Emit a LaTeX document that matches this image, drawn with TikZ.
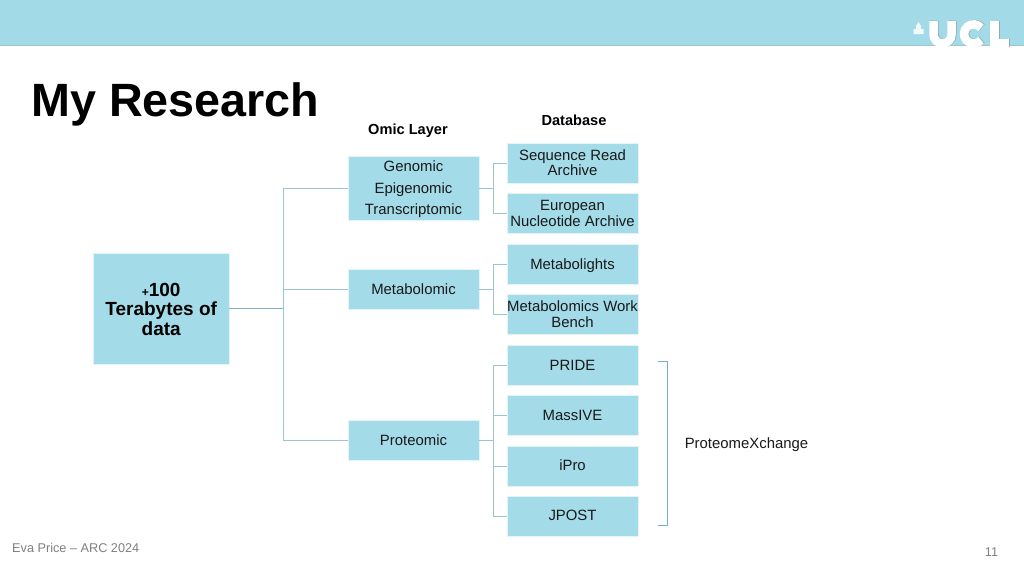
\documentclass[tikz,border=0pt]{standalone}
\usepackage{fontspec}
\setmainfont{Liberation Sans}
\definecolor{band}{HTML}{A3DAE8}
\definecolor{boxc}{HTML}{A3DBE8}
\definecolor{conn}{HTML}{9CC6CE}
\definecolor{rootconn}{HTML}{84B4C0}
\definecolor{brk}{HTML}{6DB5C5}
\definecolor{foot}{HTML}{808080}
\definecolor{logoedge}{HTML}{8FA9B5}
\newcommand{\fs}[1]{\fontsize{#1}{#1}\selectfont}
\newcommand{\dn}[2]{\raisebox{-#1}[\height][\depth]{#2}}
\tikzset{
  x=1pt,y=-1pt,
  box/.style={fill=boxc,draw=white!70!boxc,line width=0.5pt,inner sep=0pt,align=center,text=black!90,font=\fs{14.9}},
  layerbox/.style={box,minimum width=131pt},
  dbbox/.style={box,minimum width=131pt,minimum height=40pt},
  link/.style={draw=conn,line width=1pt},
  head/.style={font=\bfseries\fs{14.6},text=black,inner sep=0pt},
  logostroke/.style={line width=8.5pt,line cap=butt,line join=miter}
}
\begin{document}
\begin{tikzpicture}
\useasboundingbox (0,0) rectangle (1024,576);
\fill[white] (0,0) rectangle (1024,576);
\fill[band] (0,0) rectangle (1024,45.5);
\draw[conn,line width=0.8pt] (0,45.5) -- (1024,45.5);
% logo
\begin{scope}
\clip (900,0) rectangle (1024,46.5);
\foreach \off/\col in {0.9/logoedge,0/white}{
  \begin{scope}[shift={(\off,-\off*0.3)}]
  \draw[\col,logostroke] (933.5,21) -- (933.5,34.5) arc[start angle=180,end angle=0,x radius=9,y radius=9] -- (951.5,21);
  \draw[\col,logostroke] (981,27.8) arc[start angle=-40,end angle=-320,x radius=9.6,y radius=9.6];
  \draw[\col,logostroke] (994.5,21) -- (994.5,43.5) -- (1009,43.5);
  \end{scope}
}
\end{scope}
\fill[white!85!band] (918.5,22) -- (921,26) -- (921,29) -- (923.5,29) -- (923.5,34) -- (913.5,34) -- (913.5,29) -- (916,29) -- (916,26) -- cycle;
% title
\node[font=\bfseries\fs{46.7},text=black,inner sep=0pt,anchor=base west] (title) at (31,116) {My Research};
\node[head] (omic) at (408,130.5) {Omic Layer};
\node[head] (dbh) at (574,120) {Database};
% boxes
\node[box,minimum width=135.5pt,minimum height=111.5pt,font=\bfseries\fs{19},text=black] (root) at (161.2,308.7)
  {\dn{1pt}{\fs{12}+\fs{19}100}\\[1.2pt]Terabytes of\\[1.2pt]data};
\node[layerbox,minimum height=64pt] (l1) at (413.5,188) {\dn{1pt}{Genomic}\\[6.4pt]\dn{2pt}{Epigenomic}\\[6.4pt]\dn{1pt}{Transcriptomic}};
\node[layerbox,minimum height=40pt] (l2) at (413.5,289) {Metabolomic};
\node[layerbox,minimum height=40pt] (l3) at (413.5,440.5) {Proteomic};
\node[dbbox] (d1) at (572.5,163) {Sequence Read\\[0.2pt]Archive};
\node[dbbox] (d2) at (572.5,213.5) {\dn{-0.5pt}{European}\\[0.2pt]Nucleotide Archive};
\node[dbbox] (d3) at (572.5,264) {\dn{1.5pt}{Metabolights}};
\node[dbbox] (d4) at (572.5,314.5) {\dn{-0.7pt}{Metabolomics Work}\\[0.2pt]Bench};
\node[dbbox] (d5) at (572.5,365) {PRIDE};
\node[dbbox] (d6) at (572.5,415.5) {MassIVE};
\node[dbbox] (d7) at (572.5,466) {\dn{-1pt}{iPro}};
\node[dbbox] (d8) at (572.5,516.5) {\dn{-0.7pt}{JPOST}};
% connectors
\coordinate (tr) at (283,308.7);
\draw[link,draw=rootconn,line width=1.5pt] (root.east) -- (tr);
\draw[link] (tr) |- (l1.west);
\draw[link] (tr) |- (l2.west);
\draw[link] (tr) |- (l3.west);
\coordinate (m1) at (493,188);
\draw[link] (l1.east) -- (m1);
\draw[link] (m1) |- (d1.west);
\draw[link] (m1) |- (d2.west);
\coordinate (m2) at (493,289);
\draw[link] (l2.east) -- (m2);
\draw[link] (m2) |- (d3.west);
\draw[link] (m2) |- (d4.west);
\coordinate (m3) at (493,440.5);
\draw[link] (l3.east) -- (m3);
\draw[link] (m3) |- (d5.west);
\draw[link] (m3) |- (d6.west);
\draw[link] (m3) |- (d7.west);
\draw[link] (m3) |- (d8.west);
% bracket
\coordinate (b1) at (657.5,361);
\coordinate (b2) at (657.5,525);
\draw[brk,line width=1pt] (b1) -- (667,361) -- (667,525) -- (b2);
\node[font=\fs{14.9},text=black!90,inner sep=0pt] (px) at (746.5,444.5) {ProteomeXchange};
% footer
\node[font=\fs{12.7},text=foot,inner sep=0pt,anchor=base west] (foot1) at (12,552) {Eva Price – ARC 2024};
\node[font=\fs{12.7},text=foot,inner sep=0pt] (pg) at (991.5,552) {11};
\end{tikzpicture}
\end{document}
